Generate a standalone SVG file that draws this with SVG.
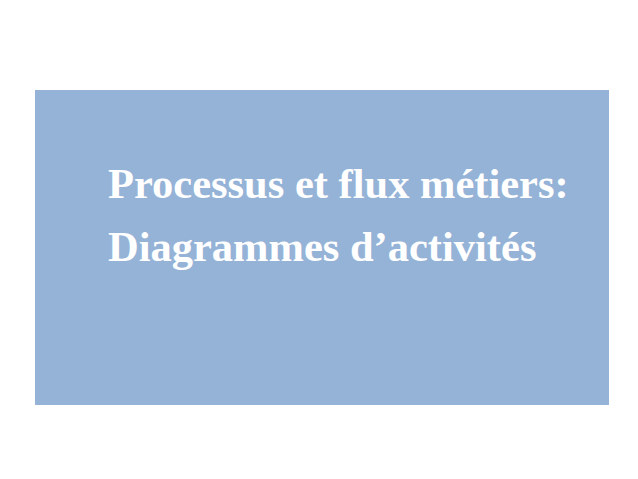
<svg xmlns="http://www.w3.org/2000/svg" width="638" height="479" viewBox="0 0 638 479">
<style>
.title{font-family:"Liberation Serif","Times New Roman",serif;font-weight:bold;font-size:42.5px;fill:#ffffff;}
</style>
<rect width="638" height="479" fill="#ffffff"/>
<g id="title-box">
<rect x="35" y="90" width="574" height="315" fill="#95B3D7"/>
<text class="title" x="108" y="198">Processus et flux métiers:</text>
<text class="title" x="108" y="261">Diagrammes d’activités</text>
</g>
</svg>
